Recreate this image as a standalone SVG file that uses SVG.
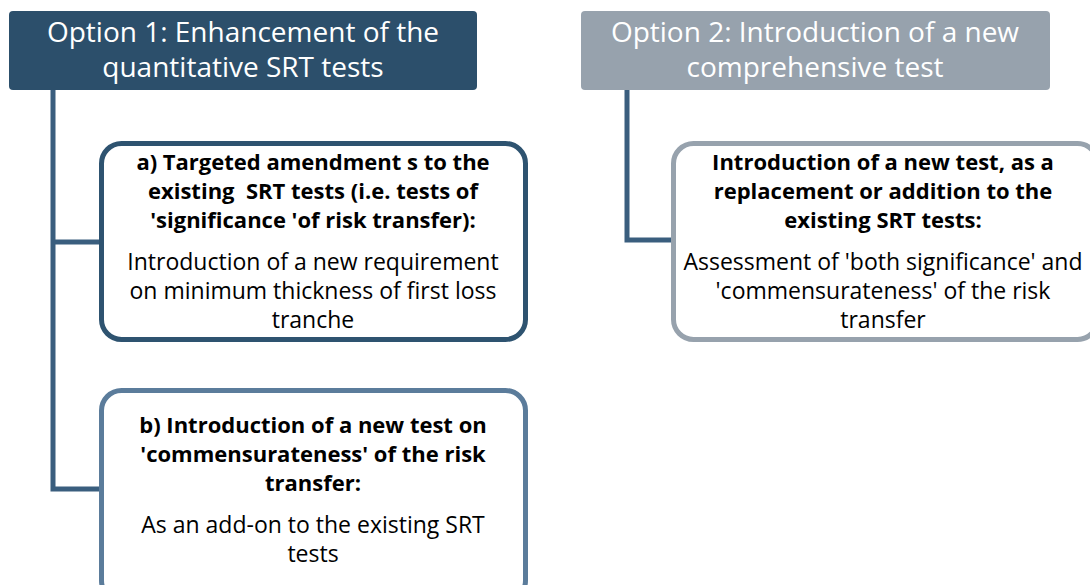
<svg xmlns="http://www.w3.org/2000/svg" width="1090" height="585" viewBox="0 0 1090 585">
<style>
.hdr{font-family:"Open Sans","Liberation Sans",sans-serif;font-size:28px;fill:#ffffff;text-anchor:middle}
.b{font-family:"Open Sans","Liberation Sans",sans-serif;font-size:22px;font-weight:bold;fill:#000;text-anchor:middle;white-space:pre}
.r{font-family:"Open Sans","Liberation Sans",sans-serif;font-size:23px;fill:#000;text-anchor:middle}
.conn{fill:none;stroke:#3A5E7E;stroke-width:5}
</style>
<rect width="1090" height="585" fill="#ffffff"/>
<g id="connectors">
<path class="conn" d="M53 90 V489 H100"/>
<path class="conn" d="M53 242 H100"/>
<path class="conn" d="M627 90 V240 H672"/>
</g>
<g id="opt1">
<rect x="9" y="11" width="468" height="79" rx="4" fill="#2C4F6B"/>
<text class="hdr" x="243" y="42">Option 1: Enhancement of the</text>
<text class="hdr" x="243" y="77">quantitative SRT tests</text>
</g>
<g id="opt2">
<rect x="581" y="11" width="469" height="79" rx="4" fill="#97A2AD"/>
<text class="hdr" x="815" y="42">Option 2: Introduction of a new</text>
<text class="hdr" x="815" y="77">comprehensive test</text>
</g>
<g id="boxA">
<rect x="101.5" y="143.5" width="424" height="196" rx="20" fill="#fff" stroke="#2E5370" stroke-width="5"/>
<text class="b" x="313" y="170">a) Targeted amendment s to the</text>
<text class="b" x="313" y="199" xml:space="preserve">existing  SRT tests (i.e. tests of</text>
<text class="b" x="313" y="228">'significance 'of risk transfer):</text>
<text class="r" x="313" y="270">Introduction of a new requirement</text>
<text class="r" x="313" y="299">on minimum thickness of first loss</text>
<text class="r" x="313" y="328">tranche</text>
</g>
<g id="boxB">
<rect x="101.5" y="390.5" width="424" height="210" rx="20" fill="#fff" stroke="#5B7C9B" stroke-width="5"/>
<text class="b" x="313" y="433">b) Introduction of a new test on</text>
<text class="b" x="313" y="462">'commensurateness' of the risk</text>
<text class="b" x="313" y="491">transfer:</text>
<text class="r" x="313" y="533">As an add-on to the existing SRT</text>
<text class="r" x="313" y="562">tests</text>
</g>
<g id="boxC">
<rect x="673.5" y="143.5" width="424" height="196" rx="20" fill="#fff" stroke="#97A2AD" stroke-width="5"/>
<text class="b" x="883" y="170">Introduction of a new test, as a</text>
<text class="b" x="883" y="199">replacement or addition to the</text>
<text class="b" x="883" y="228">existing SRT tests:</text>
<text class="r" x="883" y="270">Assessment of 'both significance' and</text>
<text class="r" x="883" y="299">'commensurateness' of the risk</text>
<text class="r" x="883" y="328">transfer</text>
</g>
</svg>
